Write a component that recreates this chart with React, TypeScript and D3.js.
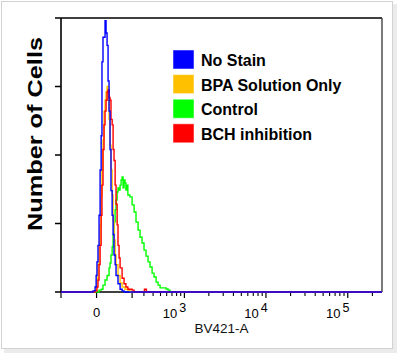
import React from 'react';
import * as d3 from 'd3';

const W = 400;
const H = 356;

// [fluorescence (BV421-A), count (% of max)]
const noStain: [number, number][] = [
  [-17, 0.4], [-7, 1.8], [-2, 6], [2, 11], [7, 17], [12, 28], [17, 44.5], [22, 57],
  [26, 84], [31, 93], [36, 93], [41, 99], [46, 94.5], [51, 90], [56, 77], [61, 66],
  [66, 52], [71, 37], [77, 28], [82, 21], [87, 13.5], [93, 10], [98, 6], [109, 3],
  [121, 1], [133, 0.4], [145, 0],
];
const bpaOnly: [number, number][] = [
  [-12, 0.4], [-2, 2], [2, 5], [7, 10], [12, 17], [17, 24.5], [22, 35], [26, 44.5],
  [31, 55.5], [36, 66], [41, 70], [46, 73], [51, 75], [56, 70], [61, 63], [66, 53.6],
  [71, 44.5], [77, 35.4], [82, 26], [87, 19], [93, 13.5], [98, 10], [109, 6], [121, 3.3],
  [133, 1.8], [151, 1], [170, 0.7], [184, 0],
];
const control: [number, number][] = [
  [2, 0], [12, 0.7], [22, 1], [31, 2.5], [41, 4.4], [51, 6], [61, 8.8], [66, 10.6],
  [71, 13.5], [77, 16.4], [82, 20.8], [87, 25.5], [93, 30], [98, 33.6], [104, 36.5],
  [109, 38], [115, 37.2], [121, 39], [127, 40.9], [133, 42], [139, 38], [145, 40.9],
  [151, 39.8], [157, 37.2], [164, 39], [170, 35.4], [184, 34.7], [200, 31.8], [215, 29.2],
  [230, 25.5], [247, 22.6], [264, 20], [282, 17.9], [301, 15.3], [321, 13.1], [342, 11],
  [364, 9.1], [388, 6.9], [412, 5.5], [438, 3.6], [465, 2.5], [494, 1.5], [539, 1.5],
  [589, 1.1], [625, 0.7], [662, 0],
];
const bchInhibition: [number, number][] = [
  [-7, 0.4], [2, 1.8], [7, 4.4], [12, 10], [17, 17], [22, 28], [26, 39], [31, 52],
  [36, 61], [41, 66], [46, 70], [51, 73], [56, 73.7], [61, 71], [66, 70], [71, 63],
  [77, 61], [82, 52], [87, 48], [93, 39], [98, 32], [104, 24.5], [109, 17], [115, 12.4],
  [121, 8.8], [133, 5], [145, 3], [157, 1.8], [170, 1], [200, 0.7], [215, 0],
  [305, 1], [325, 0],
];

const seriesNames = ['No Stain', 'BPA Solution Only', 'Control', 'BCH inhibition'];
const seriesColors = ['#0000FF', '#FFC000', '#00FF00', '#FF0000'];
const seriesData = [noStain, bpaOnly, control, bchInhibition];
const drawOrder = [2, 1, 3, 0];

const xDomain: [number, number] = [-200, 262144];
const yDomain: [number, number] = [0, 100];
const yTicks = [0, 25, 50, 75, 100];
const xMajorTicks = [-200, 0, 200, 1000, 10000, 100000];
const xLabels: { v: number; base: string; exp?: string }[] = [
  { v: 0, base: '0' },
  { v: 1000, base: '10', exp: '3' },
  { v: 10000, base: '10', exp: '4' },
  { v: 100000, base: '10', exp: '5' },
];
const xMinorTicks = [
  ...d3.range(3, 10).map((m) => m * 100),
  ...d3.range(2, 10).map((m) => m * 1000),
  ...d3.range(2, 10).map((m) => m * 10000),
  200000,
];
const xTitle = 'BV421-A';
const yTitle = 'Number of Cells';

const FONT = '"Liberation Sans", Arial, Helvetica, sans-serif';

export default function App() {
  const left = 61;
  const right = 382;
  const top = 18;
  const bottom = 292;

  const cofactor = 170;
  const T = (v: number) => Math.asinh(v / cofactor);
  const xT = d3.scaleLinear().domain(xDomain.map(T)).range([left, right]);
  const x = (v: number) => xT(T(v));
  const y = d3.scaleLinear().domain(yDomain).range([bottom, top]);

  const line = d3
    .line<[number, number]>()
    .x((d) => x(d[0]))
    .y((d) => y(d[1]))
    .curve(d3.curveStepAfter);

  return (
    <svg
      width={W}
      height={H}
      style={{ position: 'absolute', left: 0, top: 0, background: '#fff' }}
      fontFamily={FONT}
    >
      {/* card with shadow */}
      <rect x={4} y={4} width={393} height={349} fill="#ebebeb" />
      <rect x={1.5} y={1.5} width={391} height={347} fill="#fff" stroke="#d2d2d2" strokeWidth={1} />

      {/* y ticks */}
      {yTicks.map((t) => (
        <line key={t} x1={left - 6} x2={left} y1={y(t)} y2={y(t)} stroke="#000" strokeWidth={1.5} />
      ))}
      {/* x ticks */}
      {xMajorTicks.map((t) => (
        <line key={'M' + t} x1={x(t)} x2={x(t)} y1={bottom} y2={bottom + 6} stroke="#000" strokeWidth={1.2} />
      ))}
      {xMinorTicks.map((t) => (
        <line key={'m' + t} x1={x(t)} x2={x(t)} y1={bottom} y2={bottom + 4} stroke="#000" strokeWidth={1.1} />
      ))}

      {/* frame */}
      <line x1={left} x2={left} y1={top} y2={bottom} stroke="#000" strokeWidth={1.6} />
      <line x1={left} x2={right} y1={top} y2={top} stroke="#000" strokeWidth={1.6} />
      <line x1={right} x2={right} y1={top} y2={bottom} stroke="#333" strokeWidth={1.3} />
      <line x1={left} x2={right} y1={bottom} y2={bottom} stroke="#000" strokeWidth={1.6} />

      {/* histograms */}
      {drawOrder.map((i) => {
        const pts: [number, number][] = [[xDomain[0], 0], ...seriesData[i], [xDomain[1], 0]];
        return (
          <path
            key={seriesNames[i]}
            d={line(pts) || ''}
            fill="none"
            stroke={seriesColors[i]}
            strokeWidth={1.4}
          />
        );
      })}

      {/* x labels */}
      {xLabels.map((l) =>
        l.exp ? (
          <text key={l.v} x={x(l.v) - 10} y={318} fontSize={13} textAnchor="middle" fill="#000">
            {l.base}
            <tspan dx={2} dy={-6} fontSize={12.5}>
              {l.exp}
            </tspan>
          </text>
        ) : (
          <text key={l.v} x={x(l.v)} y={317} fontSize={13} textAnchor="middle" fill="#000">
            {l.base}
          </text>
        )
      )}
      <text x={(left + right) / 2} y={333} fontSize={13.5} textAnchor="middle" fill="#111">
        {xTitle}
      </text>
      <text
        transform={`translate(42, 134) rotate(-90)`}
        fontSize={21}
        fontWeight="bold"
        textAnchor="middle"
        textLength={194}
        lengthAdjust="spacingAndGlyphs"
        fill="#000"
      >
        {yTitle}
      </text>

      {/* legend */}
      {seriesNames.map((n, i) => (
        <g key={n} transform={`translate(173, ${50 + i * 24.6})`}>
          <rect x={0} y={0} width={21} height={19} fill={seriesColors[i]} stroke="#fff" strokeOpacity={0.5} strokeWidth={1} />
          <text x={28} y={16} fontSize={16} fontWeight="bold" fill="#000">
            {n}
          </text>
        </g>
      ))}
    </svg>
  );
}
